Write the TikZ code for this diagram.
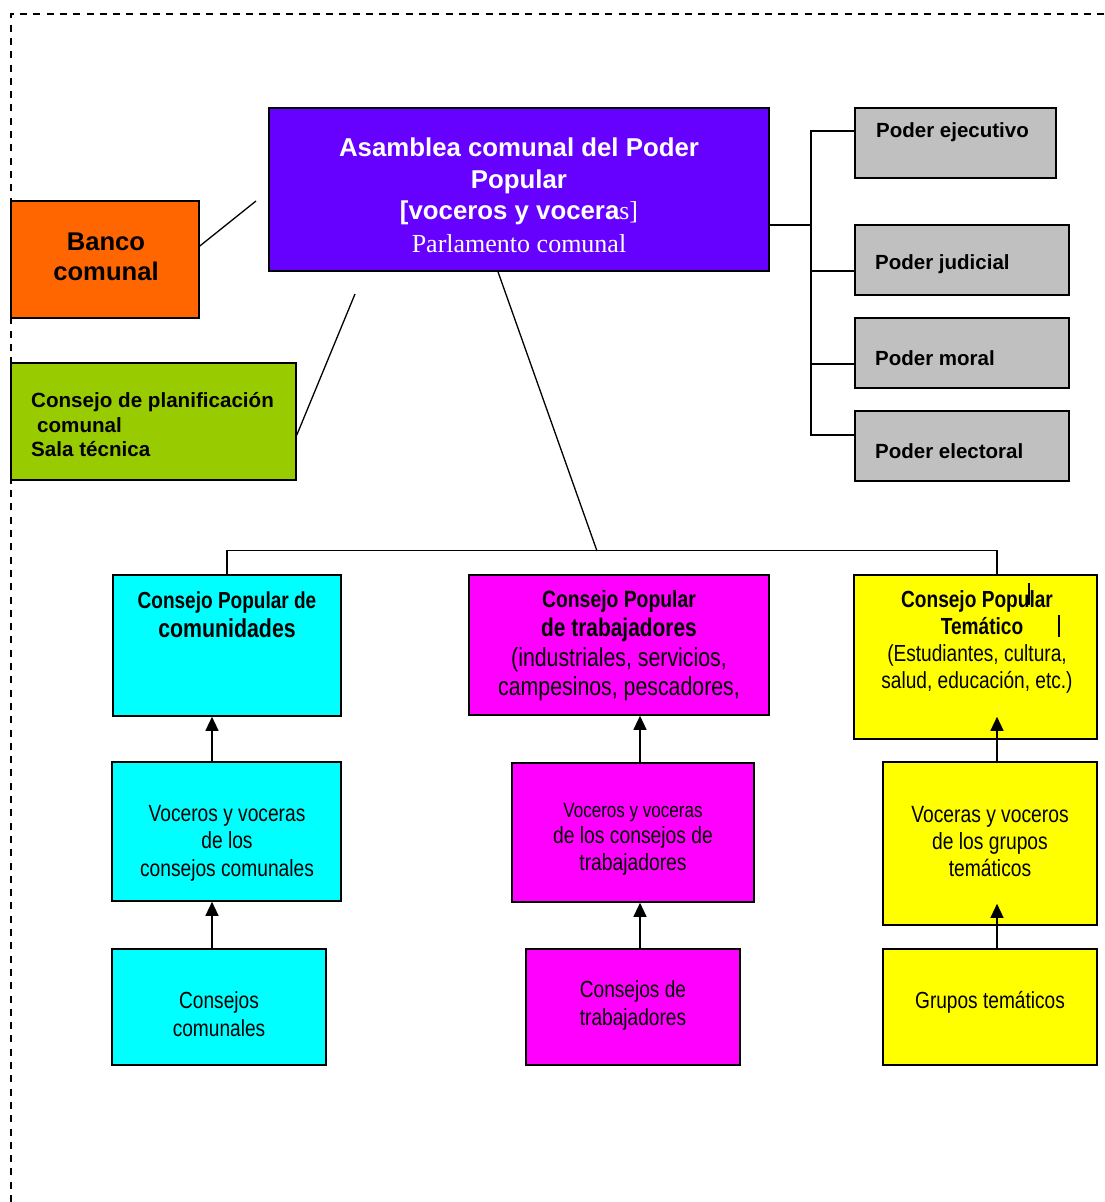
\documentclass[tikz,border=0pt]{standalone}
\usepackage{fontspec}
\setmainfont{Liberation Sans}
\newfontfamily\serifface{Liberation Serif}
\newfontfamily\narrowface[FakeStretch=0.82]{Liberation Sans}
\usetikzlibrary{arrows.meta}
\definecolor{cpurple}{HTML}{6600FF}
\definecolor{corange}{HTML}{FF6600}
\definecolor{cgreen}{HTML}{99CC00}
\definecolor{cgray}{HTML}{C0C0C0}
\definecolor{ccyan}{HTML}{00FFFF}
\definecolor{cmag}{HTML}{FF00FF}
\definecolor{cyel}{HTML}{FFFF00}
\tikzset{
  box/.style={draw=black, line width=1.6pt, rectangle, inner sep=0pt},
  txt/.style={inner sep=0pt, align=center},
  conn/.style={line width=1.3pt, draw=black},
  arr/.style={line width=1.3pt, draw=black, -{Triangle[width=13pt,length=14pt]}},
  border/.style={line width=1.5pt, dash pattern=on 7pt off 6.3pt},
}
\newcommand{\bx}[6]{% name, x1, y1, x2, y2, color
  \node[box, fill=#6, minimum width={#4-#2}, minimum height={#5-#3}] (#1) at ({(#2+#4)/2},{(#3+#5)/2}) {};}
\begin{document}
\begin{tikzpicture}[x=1pt, y=-1pt]
\useasboundingbox (0,0) rectangle (1104,1202);
% dashed frame
\coordinate (fb) at (11,1202);
\coordinate (fc) at (11,14);
\coordinate (fr) at (1104,14);
\draw[border] (fb) -- (fc) -- (fr);

% boxes
\bx{asam}{269}{108}{769}{271}{cpurple}
\bx{banco}{11}{201}{199}{318}{corange}
\bx{plan}{11}{363}{296}{480}{cgreen}
\bx{pe}{855}{108}{1056}{178}{cgray}
\bx{pj}{855}{225}{1069}{295}{cgray}
\bx{pm}{855}{318}{1069}{388}{cgray}
\bx{pel}{855}{411}{1069}{481}{cgray}
\bx{cpc}{113}{575}{341}{716}{ccyan}
\bx{cpw}{469}{575}{769}{715}{cmag}
\bx{cpt}{854}{575}{1097}{739}{cyel}
\bx{vc}{112}{762}{341}{901}{ccyan}
\bx{vw}{512}{763}{754}{902}{cmag}
\bx{vt}{883}{762}{1097}{925}{cyel}
\bx{cc}{112}{949}{326}{1065}{ccyan}
\bx{cw}{526}{949}{740}{1065}{cmag}
\bx{gt}{883}{949}{1097}{1065}{cyel}

% texts
\node[txt, text=white, font=\fontsize{25.8}{31.5}\selectfont\bfseries] (tasam) at (519,181.5)
  {Asamblea comunal del Poder\\Popular\\{}[voceros y vocera{\serifface\mdseries s]}};
\node[txt, text=white, font=\serifface\fontsize{26}{30}\selectfont] (tparl) at (519,244) {Parlamento comunal};
\node[txt, font=\fontsize{25.6}{30}\selectfont\bfseries] (tbanco) at (106,256.5) {Banco\\comunal};
\node[txt, align=left, anchor=west, font=\fontsize{20.6}{24.5}\selectfont\bfseries] (tplan) at (31,425)
  {Consejo de planificación\\\hspace*{6pt}comunal\\Sala técnica};
\node[txt, anchor=west, font=\fontsize{20.5}{24}\selectfont\bfseries] (tpe) at (876,132.5) {Poder ejecutivo};
\node[txt, anchor=west, font=\fontsize{20.5}{24}\selectfont\bfseries] (tpj) at (875,264.5) {Poder judicial};
\node[txt, anchor=west, font=\fontsize{20.5}{24}\selectfont\bfseries] (tpm) at (875,358.5) {Poder moral};
\node[txt, anchor=west, font=\fontsize{20.5}{24}\selectfont\bfseries] (tpel) at (875,451.5) {Poder electoral};

\node[txt, font=\narrowface\bfseries\fontsize{26}{29}\selectfont] (tcpc) at (227,615)
  {{\fontsize{23.2}{29}\selectfont Consejo Popular de}\\comunidades};
\node[txt, font=\narrowface\fontsize{26}{29.5}\selectfont] (tcpw) at (619,645.5)
  {{\bfseries\fontsize{23.6}{29.5}\selectfont Consejo Popular}\\{\bfseries\fontsize{25.5}{29.5}\selectfont de trabajadores}\\(industriales, servicios,\\campesinos, pescadores,};
\node[txt, font=\narrowface\fontsize{23.3}{27}\selectfont] (tcpt) at (977,642)
  {\textbf{Consejo Popular}\\\hspace*{10pt}\textbf{Temático}\\(Estudiantes, cultura,\\salud, educación, etc.)};

\node[txt, font=\narrowface\fontsize{23.4}{27.5}\selectfont] (tvc) at (227,843)
  {Voceros y voceras\\de los\\consejos comunales};
\node[txt, font=\narrowface\fontsize{23.5}{26.5}\selectfont] (tvw) at (633,839)
  {{\fontsize{20.8}{26.5}\selectfont Voceros y voceras}\\de los consejos de\\trabajadores};
\node[txt, font=\narrowface\fontsize{23.5}{27}\selectfont] (tvt) at (990,841.5)
  {Voceras y voceros\\de los grupos\\temáticos};
\node[txt, font=\narrowface\fontsize{23.3}{28}\selectfont] (tcc) at (219,1014) {Consejos\\comunales};
\node[txt, font=\narrowface\fontsize{23.3}{28}\selectfont] (tcw) at (633,1005) {Consejos de\\trabajadores};
\node[txt, font=\narrowface\fontsize{23.3}{28}\selectfont] (tgt) at (990,1002.5) {Grupos temáticos};

% cursor marks in the yellow box
\coordinate (m1a) at (1029,583); \coordinate (m1b) at (1029,605);
\coordinate (m2a) at (1059,615); \coordinate (m2b) at (1059,637);
\draw[line width=1.3pt] (m1a) -- (m1b);
\draw[line width=1.3pt] (m2a) -- (m2b);

% connectors top-left
\coordinate (bfree) at (256,201);
\coordinate (pfree) at (355,294);
\draw[conn] ([yshift=13.5pt]banco.east) -- (bfree);
\draw[conn] ([yshift=-13.5pt]plan.east) -- (pfree);

% bracket to the powers
\coordinate (bt) at (811,131);
\coordinate (bm) at (811,225);
\coordinate (bb) at (811,435);
\draw[conn] ([yshift=-35.5pt]asam.east) -- (bm);
\draw[conn] ([yshift=12pt]pe.west) -- (bt) -- (bb) -- ([yshift=11pt]pel.west);
\draw[conn] ([yshift=-11pt]pj.west) -- ([yshift=-11pt]pj.west -| bt);
\draw[conn] ([yshift=-11pt]pm.west) -- ([yshift=-11pt]pm.west -| bt);

% tree to the councils
\coordinate (j) at (597,551);
\draw[conn] ([xshift=-21pt]asam.south) -- (j);
\draw[conn] (cpc.north) -- ++(0,-24) -| ([xshift=21.5pt]cpt.north);

% arrows
\draw[arr] ([xshift=-14.5pt]vc.north) -- ([xshift=-15pt]cpc.south);
\draw[arr] ([xshift=-7pt]cc.north) -- ([xshift=-14.5pt]vc.south);
\draw[arr] ([xshift=7pt]vw.north) -- ([xshift=21pt]cpw.south);
\draw[arr] ([xshift=7pt]cw.north) -- ([xshift=7pt]vw.south);
\draw[arr] ([xshift=7pt]vt.north) -- ([xshift=21.5pt,yshift=23pt]cpt.south);
\draw[arr] ([xshift=7pt]gt.north) -- ([xshift=7pt,yshift=22pt]vt.south);
\end{tikzpicture}
\end{document}
